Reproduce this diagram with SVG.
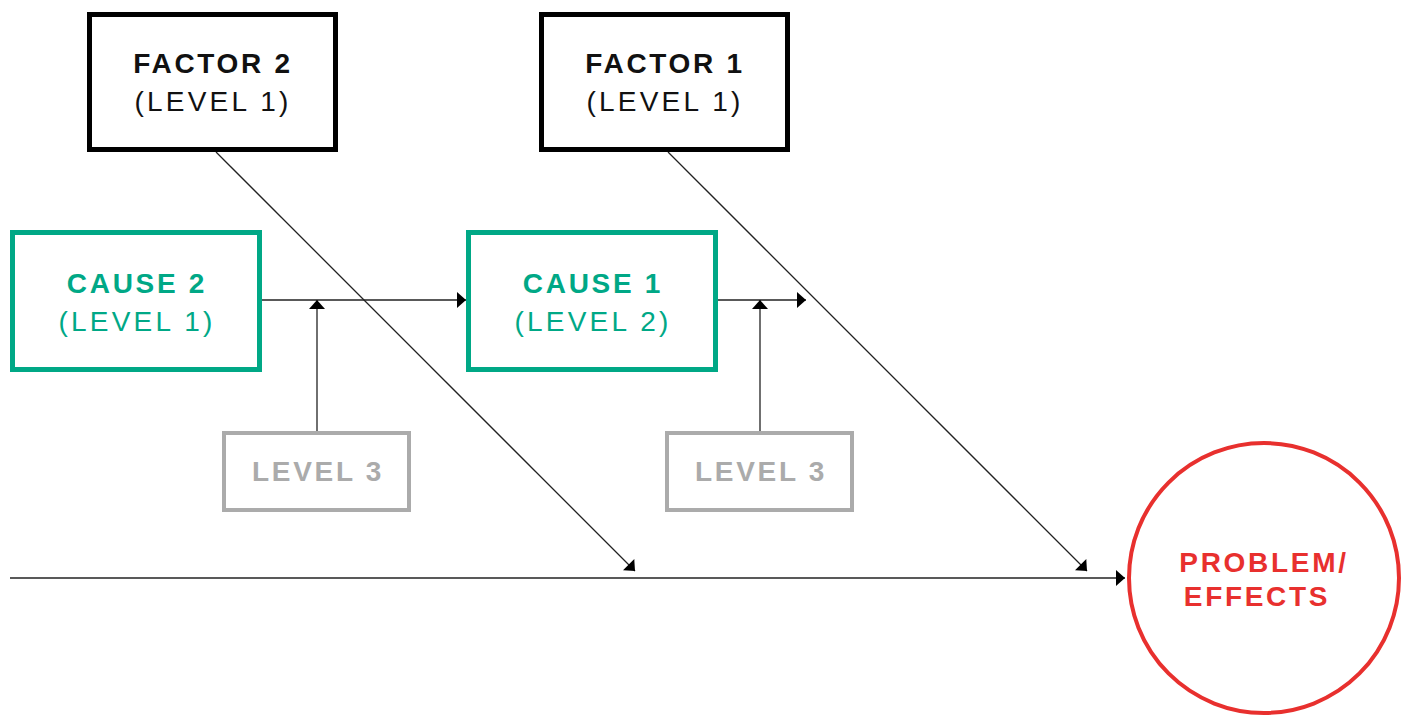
<svg xmlns="http://www.w3.org/2000/svg" width="1408" height="715" viewBox="0 0 1408 715">
<style>
.bk{fill:#fff;stroke:#000;stroke-width:5}
.gr{fill:#fff;stroke:#00a886;stroke-width:5}
.lv{fill:#fff;stroke:#ababab;stroke-width:4}
.t{font-family:"Liberation Sans",Arial,sans-serif;text-anchor:middle}
.b{font-weight:bold;font-size:28px;letter-spacing:2.7px}
.n{font-size:28px;letter-spacing:3.2px}
.c{fill:none;stroke:#222;stroke-width:1.3}
</style>
<defs>
<marker id="ah" markerUnits="userSpaceOnUse" markerWidth="20" markerHeight="20" refX="10" refY="8" orient="auto" viewBox="0 0 20 16">
<path d="M1,0 L10,8 L1,16 Z" fill="#000"/>
</marker>
</defs>
<g id="connectors">
<line class="c" x1="10" y1="578" x2="1125" y2="578" marker-end="url(#ah)"/>
<line class="c" x1="216" y1="152" x2="635" y2="571" marker-end="url(#ah)"/>
<line class="c" x1="668" y1="152" x2="1087" y2="571" marker-end="url(#ah)"/>
<line class="c" x1="262" y1="300" x2="466" y2="300" marker-end="url(#ah)"/>
<line class="c" x1="718" y1="300" x2="806" y2="300" marker-end="url(#ah)"/>
<line class="c" x1="317" y1="431" x2="317" y2="300" marker-end="url(#ah)"/>
<line class="c" x1="760" y1="431" x2="760" y2="300" marker-end="url(#ah)"/>
</g>
<g id="factor2">
<rect class="bk" x="89.5" y="14.5" width="246" height="135"/>
<text class="t b" x="213" y="73" fill="#111">FACTOR 2</text>
<text class="t n" x="213" y="111" fill="#111">(LEVEL 1)</text>
</g>
<g id="factor1">
<rect class="bk" x="541.5" y="14.5" width="246" height="135"/>
<text class="t b" x="665" y="73" fill="#111">FACTOR 1</text>
<text class="t n" x="665" y="111" fill="#111">(LEVEL 1)</text>
</g>
<g id="cause2">
<rect class="gr" x="12.5" y="232.5" width="247" height="137"/>
<text class="t b" x="137" y="293" fill="#00a886">CAUSE 2</text>
<text class="t n" x="137" y="331" fill="#00a886">(LEVEL 1)</text>
</g>
<g id="cause1">
<rect class="gr" x="468.5" y="232.5" width="247" height="137"/>
<text class="t b" x="593" y="293" fill="#00a886">CAUSE 1</text>
<text class="t n" x="593" y="331" fill="#00a886">(LEVEL 2)</text>
</g>
<g id="level3a">
<rect class="lv" x="224" y="433" width="185" height="77"/>
<text class="t b" x="318" y="481" fill="#ababab">LEVEL 3</text>
</g>
<g id="level3b">
<rect class="lv" x="667" y="433" width="185" height="77"/>
<text class="t b" x="761" y="481" fill="#ababab">LEVEL 3</text>
</g>
<g id="problem">
<circle cx="1264" cy="578" r="135" fill="#fff" stroke="#e8302e" stroke-width="4"/>
<text class="t b" x="1264" y="572" fill="#e8302e">PROBLEM/</text>
<text class="t b" x="1257" y="606" fill="#e8302e">EFFECTS</text>
</g>
</svg>
